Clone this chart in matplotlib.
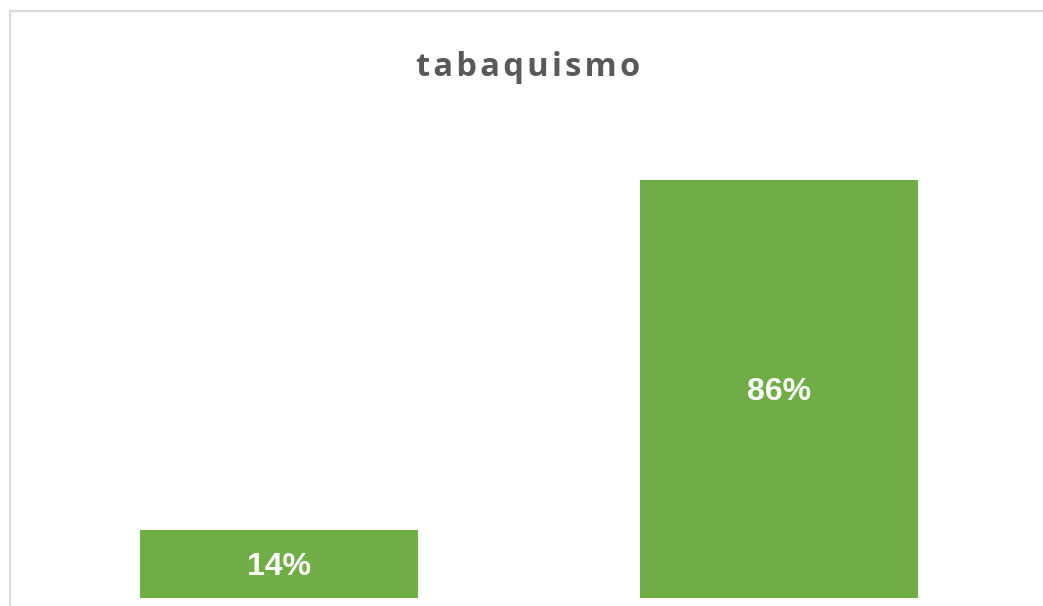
import matplotlib.pyplot as plt
from matplotlib.patches import Rectangle

# datos
categorias = ["Sí", "No"]
porcentajes = [14, 86]
etiquetas = ["14%", "86%"]

W, H = 1043, 606
fig = plt.figure(figsize=(W / 100, H / 100), dpi=100)
fig.patch.set_facecolor("white")

# borde del gráfico (recortado a la derecha y abajo)
fig.add_artist(Rectangle((9.5 / W, -0.1), 1.2, (H - 10.5) / H + 0.1,
                         transform=fig.transFigure, fill=False,
                         edgecolor="#d9d9d9", linewidth=1.5))

# ejes: base en y=598 px, 100% = 486 px
ax = fig.add_axes([29 / W, (H - 598) / H, 1000 / W, 486 / H])
x = range(len(categorias))
barras = ax.bar(x, porcentajes, width=0.556, color="#70ad47")
ax.set_xlim(-0.5, 1.5)
ax.set_ylim(0, 100)
ax.axis("off")

for b, txt in zip(barras, etiquetas):
    ax.annotate(txt, (b.get_x() + b.get_width() / 2, b.get_height() / 2),
                xytext=(0, -2), textcoords="offset points",
                ha="center", va="center", color="white", fontsize=23,
                fontweight="bold", family="Liberation Sans")

fig.text(528 / W, 1 - 67 / H, "t a b a q u i s m o".replace(" ", "\u200a"),
         ha="center", va="center", fontsize=23.5, fontweight="bold",
         color="#595959", family="Open Sans")

fig.savefig("out.png", dpi=100)
